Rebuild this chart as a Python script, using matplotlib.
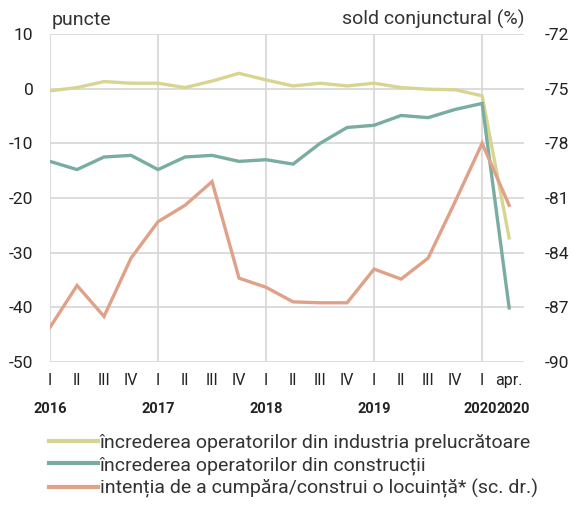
import numpy as np
import matplotlib
matplotlib.use("Agg")
import matplotlib.pyplot as plt
import matplotlib.transforms as mtransforms

# quarter labels, 2016 Q1 .. 2020 Q1 plus April 2020
quarters = ["I", "II", "III", "IV"] * 4 + ["I", "apr."]
years = ["2016", "2017", "2018", "2019", "2020", "2020"]
year_pos = [0, 4, 8, 12, 16, 17]
year_shift = [0, 0, 0, 0, -2, 4]  # small pixel nudge so the two 2020s don't touch

# left axis (puncte)
industry = [-0.4, 0.2, 1.3, 1.0, 1.0, 0.2, 1.4, 2.8, 1.6, 0.5,
            1.0, 0.5, 1.0, 0.2, -0.1, -0.2, -1.3, -27.3]
construction = [-13.3, -14.8, -12.5, -12.2, -14.8, -12.5, -12.2, -13.3, -13.0, -13.8,
                -10.0, -7.1, -6.7, -4.9, -5.3, -3.8, -2.7, -40.1]
# right axis (sold conjunctural %)
housing = [-88.1, -85.8, -87.5, -84.3, -82.3, -81.4, -80.1, -85.4, -85.9, -86.7,
           -86.75, -86.75, -84.9, -85.45, -84.3, -81.2, -78.0, -81.4]

labels = ["încrederea operatorilor din industria prelucrătoare",
          "încrederea operatorilor din construcții",
          "intenția de a cumpăra/construi o locuință* (sc. dr.)"]
colors = ["#d8d590", "#79ada1", "#e0a189"]

plt.rcParams["font.family"] = ["Roboto", "DejaVu Sans"]
plt.rcParams["axes.unicode_minus"] = False

fig = plt.figure(figsize=(5.71, 5.09), dpi=100)
ax = fig.add_axes([50 / 571, 1 - 362 / 509, 474 / 571, 328 / 509])
ax2 = ax.twinx()

x = np.arange(len(industry))
l1, = ax.plot(x, industry, color=colors[0], lw=2.4, solid_joinstyle="miter")
l2, = ax.plot(x, construction, color=colors[1], lw=2.4, solid_joinstyle="miter")
l3, = ax2.plot(x, housing, color=colors[2], lw=2.4, solid_joinstyle="miter")

ax.set_xlim(0, 17.55)
ax.set_ylim(-50, 10)
ax2.set_ylim(-90, -72)
ax.set_yticks(np.arange(-50, 11, 10))
ax2.set_yticks(np.arange(-90, -71, 3))

# grid: horizontal every 10, vertical at each Q1
for v in range(-50, 11, 10):
    ax.axhline(v, color="#d9d9d9", lw=1.3, zorder=0)
for v in [0, 4, 8, 12, 16]:
    ax.axvline(v, color="#d9d9d9", lw=1.3, zorder=0)
for a in (ax, ax2):
    for s in a.spines.values():
        s.set_visible(False)

ax.set_xticks(x)
ax.set_xticklabels(quarters)
ax.tick_params(axis="x", length=0, pad=8, labelsize=11.5, colors="#222222")
ax.tick_params(axis="y", length=0, pad=12, labelsize=12.5, colors="#222222")
ax2.tick_params(axis="y", length=0, pad=15, labelsize=12.5, colors="#222222")

trans = mtransforms.blended_transform_factory(ax.transData, fig.transFigure)
for p, yr, dx in zip(year_pos, years, year_shift):
    ax.annotate(yr, xy=(p, 1 - 409 / 509), xycoords=trans,
                xytext=(dx * 0.72, 0), textcoords="offset points",
                ha="center", va="center", fontsize=10.5, fontweight="bold",
                color="#222222")

ax.text(2 / 474, 1 + 5 / 328, "puncte", transform=ax.transAxes, ha="left",
        va="bottom", fontsize=14, color="#333333")
ax.text(1.0, 1 + 5 / 328, "sold conjunctural (%)", transform=ax.transAxes, ha="right",
        va="bottom", fontsize=14, color="#333333")

leg = fig.legend([l1, l2, l3], labels, loc="upper left",
                 bbox_to_anchor=(49 / 571, 1 - 434 / 509), frameon=False,
                 handlelength=2.5, handletextpad=0.12, labelspacing=0.2,
                 borderpad=0, borderaxespad=0,
                 prop={"size": 14})
for t in leg.get_texts():
    t.set_color("#333333")
for h in leg.legend_handles:
    h.set_linewidth(3)

fig.savefig("out.png", dpi=100)
